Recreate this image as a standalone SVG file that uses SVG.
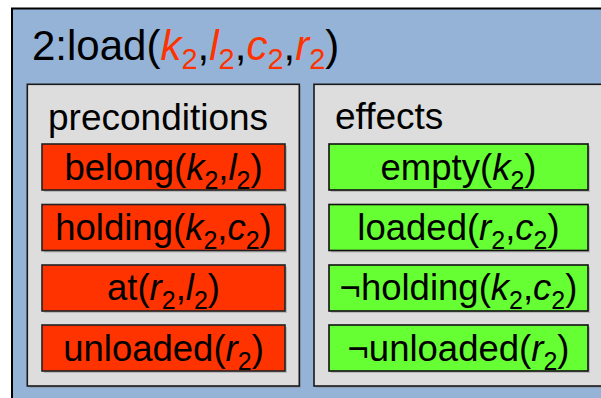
<svg xmlns="http://www.w3.org/2000/svg" width="601" height="398" viewBox="0 0 601 398">
<style>
text { font-family: "Liberation Sans", Arial, sans-serif; fill: #000; }
.title { font-size: 42px; }
.head { font-size: 37px; }
.lit { font-size: 36.5px; text-anchor: middle; }
.v { font-style: italic; }
.p { fill: #ff3300; }
.sub { font-size: 25px; }
.tsub { font-size: 29px; }
.outer { fill: #95b3d7; stroke: #000; stroke-width: 2; }
.panel { fill: #dddddd; stroke: #1a1a1a; stroke-width: 1.6; }
.pre { fill: #ff3300; stroke: #222; stroke-width: 1.6; }
.eff { fill: #66ff33; stroke: #111; stroke-width: 1.6; }
.shadow { fill: #808080; opacity: 0.4; }
</style>
<g id="action">
  <rect class="outer" x="12" y="8.5" width="600" height="400"/>
  <text class="title" x="32" y="60">2:load(<tspan class="v p">k</tspan><tspan class="p tsub" dy="9">2</tspan><tspan dy="-9">,</tspan><tspan class="v p">l</tspan><tspan class="p tsub" dy="9">2</tspan><tspan dy="-9">,</tspan><tspan class="v p">c</tspan><tspan class="p tsub" dy="9">2</tspan><tspan dy="-9">,</tspan><tspan class="v p">r</tspan><tspan class="p tsub" dy="9">2</tspan><tspan dy="-9">)</tspan></text>
</g>
<g id="preconditions">
  <rect class="shadow" x="29" y="86" width="272" height="302"/>
  <rect class="panel" x="27.3" y="84.3" width="272" height="301.7"/>
  <text class="head" x="48" y="130">preconditions</text>
</g>
<g id="effects">
  <rect class="shadow" x="316" y="86" width="300" height="302"/>
  <rect class="panel" x="314" y="84.3" width="300" height="301.7"/>
  <text class="head" x="335" y="129">effects</text>
</g>
<g id="pre-belong">
  <rect class="shadow" x="44" y="146" width="243" height="46"/>
  <rect class="pre" x="42" y="144" width="243" height="46"/>
  <text class="lit" x="163.5" y="180">belong(<tspan class="v">k</tspan><tspan class="sub" dy="9">2</tspan><tspan dy="-9">,</tspan><tspan class="v">l</tspan><tspan class="sub" dy="9">2</tspan><tspan dy="-9">)</tspan></text>
</g>
<g id="pre-holding">
  <rect class="shadow" x="44" y="206.5" width="243" height="46"/>
  <rect class="pre" x="42" y="204.5" width="243" height="46"/>
  <text class="lit" x="163.5" y="240">holding(<tspan class="v">k</tspan><tspan class="sub" dy="9">2</tspan><tspan dy="-9">,</tspan><tspan class="v">c</tspan><tspan class="sub" dy="9">2</tspan><tspan dy="-9">)</tspan></text>
</g>
<g id="pre-at">
  <rect class="shadow" x="44" y="267" width="243" height="46"/>
  <rect class="pre" x="42" y="265" width="243" height="46"/>
  <text class="lit" x="163.5" y="300">at(<tspan class="v">r</tspan><tspan class="sub" dy="9">2</tspan><tspan dy="-9">,</tspan><tspan class="v">l</tspan><tspan class="sub" dy="9">2</tspan><tspan dy="-9">)</tspan></text>
</g>
<g id="pre-unloaded">
  <rect class="shadow" x="44" y="327" width="243" height="46"/>
  <rect class="pre" x="42" y="325" width="243" height="46"/>
  <text class="lit" x="163.5" y="361">unloaded(<tspan class="v">r</tspan><tspan class="sub" dy="9">2</tspan><tspan dy="-9">)</tspan></text>
</g>
<g id="eff-empty">
  <rect class="shadow" x="331" y="146" width="259" height="46"/>
  <rect class="eff" x="329" y="144" width="259" height="46"/>
  <text class="lit" x="458.5" y="180">empty(<tspan class="v">k</tspan><tspan class="sub" dy="9">2</tspan><tspan dy="-9">)</tspan></text>
</g>
<g id="eff-loaded">
  <rect class="shadow" x="331" y="206.5" width="259" height="46"/>
  <rect class="eff" x="329" y="204.5" width="259" height="46"/>
  <text class="lit" x="458.5" y="240">loaded(<tspan class="v">r</tspan><tspan class="sub" dy="9">2</tspan><tspan dy="-9">,</tspan><tspan class="v">c</tspan><tspan class="sub" dy="9">2</tspan><tspan dy="-9">)</tspan></text>
</g>
<g id="eff-not-holding">
  <rect class="shadow" x="331" y="267" width="259" height="46"/>
  <rect class="eff" x="329" y="265" width="259" height="46"/>
  <text class="lit" x="458.5" y="300">¬holding(<tspan class="v">k</tspan><tspan class="sub" dy="9">2</tspan><tspan dy="-9">,</tspan><tspan class="v">c</tspan><tspan class="sub" dy="9">2</tspan><tspan dy="-9">)</tspan></text>
</g>
<g id="eff-not-unloaded">
  <rect class="shadow" x="331" y="327" width="259" height="46"/>
  <rect class="eff" x="329" y="325" width="259" height="46"/>
  <text class="lit" x="458.5" y="361">¬unloaded(<tspan class="v">r</tspan><tspan class="sub" dy="9">2</tspan><tspan dy="-9">)</tspan></text>
</g>
<g id="connectors"/>
</svg>
